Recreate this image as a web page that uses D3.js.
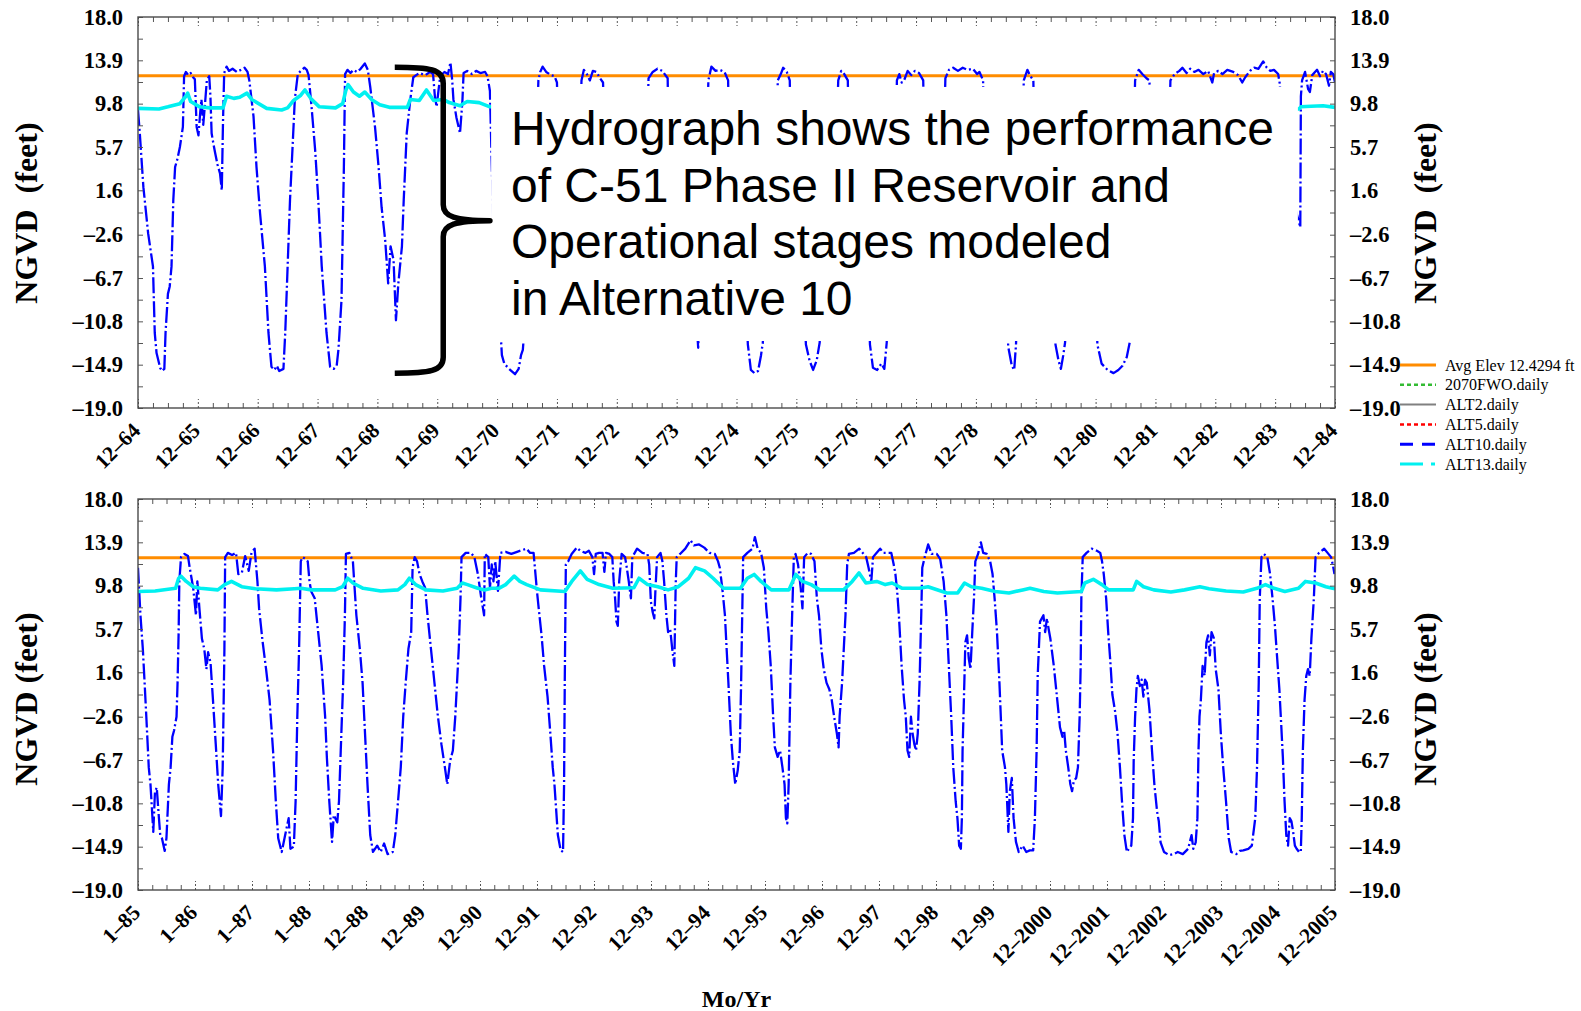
<!DOCTYPE html>
<html><head><meta charset="utf-8">
<script src="https://cdn.jsdelivr.net/npm/d3@7"></script>
<style>
html,body{margin:0;padding:0;background:#fff;}
svg{display:block;}
</style></head><body>
<svg id="chart" width="1581" height="1011"></svg>
<script>
// ---------------- DATA ----------------
const yTickLabels = ["18.0","13.9","9.8","5.7","1.6","\u20132.6","\u20136.7","\u201310.8","\u201314.9","\u201319.0"];
const yTickValues = [18.0,13.9,9.8,5.7,1.6,-2.6,-6.7,-10.8,-14.9,-19.0];

const topXLabels = ["12\u201364","12\u201365","12\u201366","12\u201367","12\u201368","12\u201369","12\u201370","12\u201371","12\u201372","12\u201373","12\u201374","12\u201375","12\u201376","12\u201377","12\u201378","12\u201379","12\u201380","12\u201381","12\u201382","12\u201383","12\u201384"];
const bottomXLabels = ["1\u201385","1\u201386","1\u201387","1\u201388","12\u201388","12\u201389","12\u201390","12\u201391","12\u201392","12\u201393","12\u201394","12\u201395","12\u201396","12\u201397","12\u201398","12\u201399","12\u20132000","12\u20132001","12\u20132002","12\u20132003","12\u20132004","12\u20132005"];

const avgElev = 12.4294;

// [time (label units from panel start), stage ft]
const topALT10 = [
[0,9.2],[0.03,7.0],[0.09,1.9],[0.17,-2.5],[0.25,-5.6],[0.28,-11.9],[0.31,-13.8],[0.37,-15.2],[0.4,-15.5],[0.44,-15.3],[0.46,-11.9],[0.5,-8.2],[0.53,-7.5],[0.56,-5.6],[0.59,0.7],[0.62,3.8],[0.66,4.6],[0.70,5.7],[0.75,7.6],[0.77,12.4],[0.8,12.8],[0.84,12.5],[0.88,12.7],[0.92,12.3],[0.95,12.1],[0.98,7.6],[1.01,6.8],[1.04,9.0],[1.06,10.2],[1.09,7.8],[1.12,9.8],[1.15,12.0],[1.19,12.4],[1.21,10.5],[1.23,7.0],[1.26,6.0],[1.29,5.1],[1.33,4.0],[1.37,3.2],[1.40,1.6],[1.42,8.0],[1.44,12.7],[1.48,13.3],[1.52,12.9],[1.58,13.1],[1.65,12.8],[1.72,13.0],[1.78,13.2],[1.83,12.8],[1.86,12.0],[1.93,8.6],[1.98,3.8],[2.04,-0.6],[2.12,-5.6],[2.18,-11.9],[2.23,-15.1],[2.28,-15.4],[2.32,-15.0],[2.36,-15.5],[2.43,-15.3],[2.46,-11.9],[2.5,-5.6],[2.54,0.7],[2.58,5.4],[2.62,10.2],[2.67,12.6],[2.72,12.9],[2.78,13.2],[2.82,13.0],[2.85,12.5],[2.9,9.5],[2.96,5.4],[3.01,0.9],[3.07,-5.6],[3.15,-11.9],[3.21,-15.1],[3.27,-15.3],[3.32,-15.0],[3.35,-13.4],[3.40,-8.8],[3.42,-2.5],[3.44,3.8],[3.46,12.6],[3.5,13.0],[3.55,12.7],[3.6,13.0],[3.66,12.8],[3.72,13.1],[3.79,13.6],[3.84,13.0],[3.88,11.4],[3.96,7.6],[4.02,3.8],[4.07,0.0],[4.13,-3.1],[4.18,-7.2],[4.22,-3.7],[4.27,-5.0],[4.31,-10.7],[4.35,-7.2],[4.41,-3.7],[4.44,0.7],[4.49,7.0],[4.55,10.2],[4.6,12.3],[4.7,12.7],[4.8,12.5],[4.88,12.8],[4.93,12.6],[4.96,10.5],[4.99,9.5],[5.02,11.0],[5.05,12.4],[5.12,12.8],[5.18,12.6],[5.22,13.7],[5.25,12.0],[5.27,10.2],[5.32,8.5],[5.38,7.0],[5.42,10.0],[5.44,12.7],[5.5,12.9],[5.58,12.6],[5.65,12.9],[5.72,12.7],[5.8,12.8],[5.84,12.4],[5.88,11.0],[5.9,6.5],
[5.95,-5],[6.06,-12.0],[6.08,-14.0],[6.12,-14.8],[6.2,-15.3],[6.3,-15.8],[6.36,-15.3],[6.4,-14.0],[6.43,-13.5],[6.45,-12.0],[6.5,-5],[6.65,5],[6.69,12.0],[6.72,12.8],[6.76,13.3],[6.82,12.8],[6.9,12.5],[6.96,12.4],[7.0,11.8],[7.03,5],
[7.38,5],[7.41,12.0],[7.45,13.0],[7.5,12.6],[7.55,12.0],[7.6,12.9],[7.66,12.8],[7.72,12.2],[7.77,11.8],[7.8,5],
[8.5,5],[8.53,12.2],[8.6,12.8],[8.68,13.1],[8.76,12.9],[8.85,12.2],[8.87,5],
[9.3,-8],[9.36,-13.3],[9.4,-8],
[9.5,5],[9.53,12.0],[9.58,13.3],[9.65,12.9],[9.72,13.0],[9.8,12.8],[9.86,12.0],[9.88,5],
[10.15,-8],[10.19,-13.0],[10.24,-15.4],[10.3,-15.7],[10.36,-15.5],[10.41,-14.0],[10.44,-12.8],[10.47,-8],
[10.66,5],[10.69,12.0],[10.74,12.6],[10.78,13.2],[10.84,12.8],[10.89,12.0],[10.91,5],
[11.12,-8],[11.16,-13.0],[11.22,-14.5],[11.28,-15.4],[11.34,-14.5],[11.39,-12.8],[11.42,-8],
[11.66,5],[11.7,12.0],[11.75,12.9],[11.8,12.6],[11.86,12.0],[11.88,5],
[12.2,-8],[12.23,-13.0],[12.28,-15.2],[12.35,-15.4],[12.42,-14.8],[12.47,-15.3],[12.51,-12.8],[12.54,-8],
[12.66,5],[12.68,12.0],[12.72,12.6],[12.76,11.8],[12.8,12.0],[12.86,12.9],[12.92,12.5],[12.98,12.9],[13.05,12.7],[13.12,12.0],[13.14,5],
[13.46,5],[13.49,12.2],[13.55,13.0],[13.62,13.2],[13.7,12.9],[13.78,13.2],[13.86,13.0],[13.95,13.1],[14.02,12.6],[14.06,12.8],[14.12,12.0],[14.14,5],
[14.5,-8],[14.54,-13.2],[14.6,-15.0],[14.64,-15.4],[14.67,-13.0],[14.7,-8],
[14.77,5],[14.8,12.0],[14.86,13.0],[14.9,12.5],[14.96,12.0],[14.98,5],
[15.3,-8],[15.33,-13.0],[15.38,-14.5],[15.42,-15.3],[15.46,-14.0],[15.49,-12.8],[15.52,-8],
[16.0,-8],[16.03,-13.0],[16.1,-14.8],[16.2,-15.4],[16.3,-15.7],[16.38,-15.4],[16.45,-15.0],[16.52,-14.2],[16.57,-12.8],[16.6,-8],
[16.63,5],[16.66,12.0],[16.72,13.0],[16.78,12.6],[16.85,12.2],[16.9,12.0],[16.93,5],
[17.22,5],[17.25,12.0],[17.32,12.6],[17.4,12.9],[17.45,13.2],[17.52,12.7],[17.58,13.1],[17.65,12.8],[17.72,13.0],[17.8,12.6],[17.88,12.9],[17.95,11.8],[17.98,12.7],[18.05,12.9],[18.12,12.6],[18.2,13.0],[18.3,12.8],[18.38,12.5],[18.45,11.8],[18.5,12.3],[18.58,12.9],[18.65,13.2],[18.72,13.1],[18.8,13.8],[18.86,13.2],[18.92,12.9],[18.98,13.0],[19.05,12.6],[19.08,11.6],[19.1,5],
[19.42,-1.9],[19.43,10.5],[19.45,12.0],[19.5,12.8],[19.55,11.2],[19.58,10.9],[19.62,12.5],[19.7,13.0],[19.75,12.4],[19.8,12.9],[19.85,12.6],[19.9,11.5],[19.93,12.8],[19.97,12.6],[20,11.8]
];

const topALT13 = [
[0,9.35],[0.35,9.3],[0.5,9.5],[0.7,9.8],[0.8,10.5],[0.83,10.8],[0.88,10.0],[1.03,9.5],[1.2,9.4],[1.42,9.4],[1.48,10.5],[1.6,10.3],[1.7,10.4],[1.82,10.8],[1.9,10.2],[2.15,9.35],[2.4,9.2],[2.5,9.4],[2.6,10.1],[2.72,10.6],[2.79,11.1],[2.9,10.2],[3.03,9.5],[3.3,9.4],[3.42,9.8],[3.47,11.0],[3.51,11.6],[3.6,10.9],[3.7,10.5],[3.79,10.9],[3.9,10.2],[4.04,9.7],[4.2,9.45],[4.5,9.45],[4.55,10.2],[4.7,10.1],[4.82,11.1],[4.94,10.1],[5.1,10.2],[5.2,9.9],[5.38,9.6],[5.5,10.0],[5.7,9.9],[5.88,9.5],
[6.5,9.4],[12,9.4],[19.4,9.3],
[19.43,9.5],[19.6,9.55],[19.8,9.6],[20,9.45]
];

const bottomALT10 = [
[0,11.5],[0.043,7.0],[0.085,3.8],[0.116,0.6],[0.146,-2.6],[0.189,-7.4],[0.219,-9.0],[0.268,-13.5],[0.298,-9.7],[0.329,-9.3],[0.359,-11.6],[0.39,-13.8],[0.42,-14.1],[0.469,-15.3],[0.499,-14.1],[0.542,-9.0],[0.572,-7.4],[0.603,-4.5],[0.633,-3.9],[0.676,-2.6],[0.694,0.6],[0.713,5.4],[0.725,10.2],[0.755,12.5],[0.816,12.8],[0.877,12.6],[0.907,11.5],[0.968,9.6],[1.017,7.0],[1.041,10.2],[1.078,7.6],[1.121,4.8],[1.163,3.8],[1.2,1.9],[1.23,3.5],[1.273,2.5],[1.315,-1.0],[1.364,-5.2],[1.407,-9.0],[1.456,-12.0],[1.486,-7.4],[1.516,3.8],[1.529,12.5],[1.577,12.9],[1.65,12.7],[1.72,12.9],[1.76,10.9],[1.821,11.0],[1.88,12.6],[1.943,11.2],[1.991,12.9],[2.046,13.3],[2.095,10.2],[2.125,7.6],[2.186,4.5],[2.247,1.9],[2.308,-1.0],[2.369,-5.8],[2.418,-10.6],[2.46,-14.1],[2.521,-15.4],[2.582,-13.8],[2.643,-12.2],[2.674,-15.1],[2.734,-14.9],[2.765,-10.6],[2.795,-2.6],[2.826,3.8],[2.856,12.1],[2.887,12.5],[2.948,12.3],[2.978,12.1],[3.009,10.2],[3.039,9.25],[3.1,8.6],[3.161,5.4],[3.222,2.2],[3.283,-2.6],[3.313,-6.4],[3.356,-10.6],[3.404,-14.45],[3.435,-11.9],[3.496,-12.6],[3.526,-10.6],[3.557,-5.8],[3.599,0.6],[3.63,7.0],[3.648,12.8],[3.709,12.9],[3.77,12.1],[3.831,7.0],[3.892,3.8],[3.94,0.6],[3.983,-4.2],[4.026,-9.0],[4.074,-13.8],[4.123,-15.4],[4.196,-14.8],[4.257,-15.4],[4.318,-14.6],[4.379,-15.6],[4.47,-15.4],[4.513,-13.8],[4.562,-10.6],[4.61,-7.4],[4.653,-2.6],[4.696,0.6],[4.744,3.8],[4.793,5.4],[4.817,11.5],[4.854,12.5],[4.896,12.1],[4.939,10.9],[4.988,10.2],[5.037,9.6],[5.079,7.0],[5.14,3.8],[5.201,0.6],[5.262,-2.6],[5.323,-5.2],[5.384,-7.4],[5.426,-9.0],[5.475,-6.8],[5.524,-5.8],[5.566,-2.6],[5.597,0.6],[5.627,3.8],[5.658,8.6],[5.676,12.5],[5.749,12.9],[5.84,12.9],[5.901,12.5],[5.962,10.9],[6.023,8.6],[6.072,7.0],[6.084,12.8],[6.145,12.5],[6.175,9.6],[6.206,11.8],[6.236,10.2],[6.267,12.1],[6.315,9.3],[6.358,12.9],[6.45,13.0],[6.55,12.8],[6.65,13.0],[6.815,13.3],[6.88,12.9],[6.94,12.9],[7.0,9.25],[7.03,7.65],[7.08,5.1],[7.125,2.2],[7.185,-0.7],[7.234,-4.2],[7.276,-7.4],[7.306,-9.0],[7.366,-13.8],[7.415,-15.25],[7.457,-15.4],[7.475,-9.0],[7.487,0.6],[7.506,11.8],[7.548,12.1],[7.608,12.8],[7.699,13.4],[7.76,13.1],[7.85,12.9],[7.91,13.1],[7.971,12.5],[8.001,10.9],[8.031,12.8],[8.09,12.9],[8.15,12.9],[8.182,11.1],[8.21,12.9],[8.27,12.8],[8.321,12.5],[8.345,10.2],[8.37,8.6],[8.394,6.4],[8.418,6.0],[8.442,10.2],[8.485,12.8],[8.545,12.5],[8.575,11.5],[8.61,10.2],[8.648,8.6],[8.672,12.5],[8.756,13.3],[8.85,12.9],[8.938,12.8],[8.968,11.8],[8.998,8.3],[9.029,7.3],[9.058,6.7],[9.077,9.3],[9.107,12.5],[9.167,12.9],[9.2,12.1],[9.23,10.2],[9.27,7.0],[9.3,5.4],[9.336,5.7],[9.373,3.8],[9.409,2.2],[9.433,9.9],[9.451,12.5],[9.51,12.8],[9.602,13.3],[9.693,14.1],[9.753,13.6],[9.844,13.7],[9.935,13.4],[10.025,12.9],[10.12,12.8],[10.176,12.1],[10.207,11.5],[10.25,9.6],[10.297,7.0],[10.327,3.8],[10.358,0.6],[10.4,-4.2],[10.436,-6.8],[10.478,-9.0],[10.521,-7.7],[10.557,-5.8],[10.581,0.6],[10.6,7.0],[10.617,12.5],[10.69,12.9],[10.781,13.3],[10.823,14.4],[10.87,13.3],[10.931,12.9],[10.98,11.5],[11.022,7.65],[11.06,5.4],[11.101,2.2],[11.143,-2.6],[11.173,-5.5],[11.222,-6.4],[11.264,-5.8],[11.306,-7.4],[11.343,-9.0],[11.367,-12.2],[11.391,-12.7],[11.415,-9.0],[11.445,0.6],[11.476,7.0],[11.506,12.5],[11.536,12.8],[11.58,11.8],[11.626,9.6],[11.657,7.65],[11.687,12.5],[11.75,12.9],[11.808,12.8],[11.868,12.1],[11.91,8.6],[11.947,7.0],[11.989,3.8],[12.031,1.9],[12.08,0.6],[12.128,0.0],[12.17,-1.0],[12.213,-2.6],[12.261,-4.2],[12.291,-5.5],[12.309,-2.6],[12.352,0.6],[12.382,3.8],[12.412,7.0],[12.442,11.8],[12.472,12.8],[12.56,12.9],[12.654,13.3],[12.715,12.9],[12.775,12.5],[12.817,11.5],[12.865,10.2],[12.895,12.5],[12.956,12.9],[13.02,13.3],[13.08,12.9],[13.216,12.9],[13.258,11.8],[13.288,10.9],[13.318,9.3],[13.349,7.0],[13.397,2.2],[13.439,-1.0],[13.47,-2.6],[13.5,-5.8],[13.53,-6.4],[13.56,-2.6],[13.59,-4.2],[13.62,-5.2],[13.65,-5.8],[13.68,-4.2],[13.711,0.6],[13.741,7.0],[13.759,11.5],[13.802,12.5],[13.862,13.7],[13.922,12.8],[14.013,12.8],[14.074,12.3],[14.134,10.2],[14.182,7.0],[14.225,2.2],[14.267,-2.6],[14.303,-7.4],[14.345,-10.6],[14.376,-12.2],[14.406,-14.8],[14.436,-15.1],[14.454,-12.2],[14.466,-5.8],[14.497,0.6],[14.515,4.45],[14.545,5.1],[14.575,2.9],[14.605,1.9],[14.636,5.4],[14.666,8.6],[14.69,12.1],[14.738,12.8],[14.787,13.9],[14.829,12.9],[14.89,12.8],[14.95,12.1],[14.992,10.9],[15.028,8.6],[15.07,5.4],[15.113,0.6],[15.161,-5.8],[15.21,-7.4],[15.234,-9.0],[15.27,-13.5],[15.294,-9.7],[15.33,-8.4],[15.361,-12.2],[15.403,-14.45],[15.451,-15.4],[15.52,-14.8],[15.584,-15.4],[15.645,-15.25],[15.705,-15.25],[15.735,-12.2],[15.765,-5.8],[15.784,1.25],[15.825,6.4],[15.885,7.0],[15.915,5.4],[15.946,6.7],[15.976,5.7],[16.006,4.8],[16.067,2.2],[16.127,-1.0],[16.175,-3.6],[16.218,-4.5],[16.248,-3.9],[16.278,-5.8],[16.32,-7.4],[16.357,-9.0],[16.387,-9.65],[16.417,-8.7],[16.459,-8.4],[16.49,-7.4],[16.52,-2.6],[16.538,2.2],[16.55,8.6],[16.574,12.5],[16.641,12.9],[16.731,13.3],[16.822,13.1],[16.882,12.9],[16.913,12.1],[16.943,10.9],[16.985,8.6],[17.021,5.4],[17.064,2.2],[17.094,-0.5],[17.142,-2.1],[17.185,-4.2],[17.227,-7.4],[17.263,-10.6],[17.305,-13.8],[17.348,-15.4],[17.384,-15.1],[17.426,-14.8],[17.456,-12.2],[17.468,-6.8],[17.493,-2.6],[17.517,0.0],[17.541,1.25],[17.577,0.3],[17.608,0.9],[17.638,-0.7],[17.668,0.9],[17.698,0.6],[17.746,-2.0],[17.789,-5.8],[17.831,-9.0],[17.879,-11.6],[17.909,-12.5],[17.94,-14.5],[18.0,-15.4],[18.091,-15.7],[18.17,-15.6],[18.242,-15.4],[18.33,-15.6],[18.423,-15.1],[18.484,-13.8],[18.514,-15.1],[18.556,-14.5],[18.586,-12.2],[18.605,-5.8],[18.623,-2.6],[18.647,-1.0],[18.677,2.2],[18.713,1.3],[18.744,4.45],[18.774,5.1],[18.804,3.2],[18.834,5.4],[18.876,4.8],[18.907,1.9],[18.955,0.0],[18.997,-4.2],[19.039,-7.4],[19.088,-10.6],[19.136,-14.1],[19.178,-15.4],[19.269,-15.6],[19.33,-15.3],[19.39,-15.25],[19.48,-15.1],[19.541,-14.8],[19.601,-12.2],[19.632,-7.4],[19.662,0.6],[19.68,8.6],[19.71,12.5],[19.752,12.8],[19.813,12.5],[19.861,10.9],[19.904,8.6],[19.946,6.0],[19.982,3.2],[20.024,0.0],[20.055,-3.2],[20.085,-6.4],[20.115,-10.6],[20.145,-13.8],[20.176,-14.8],[20.206,-12.2],[20.236,-12.5],[20.266,-13.5],[20.296,-14.8],[20.327,-15.1],[20.369,-15.4],[20.4,-15.4],[20.417,-12.2],[20.436,-5.8],[20.466,-1.0],[20.496,1.25],[20.526,1.9],[20.556,1.25],[20.586,4.8],[20.629,8.6],[20.659,12.5],[20.719,12.9],[20.81,13.3],[20.87,12.9],[20.931,12.5],[20.961,11.8],[20.991,10.9]
];

const bottomALT13 = [
[0,9.25],[0.3,9.3],[0.66,9.55],[0.713,10.5],[0.755,10.7],[0.846,10.2],[0.968,9.7],[1.09,9.55],[1.4,9.4],[1.52,9.9],[1.64,10.2],[1.82,9.7],[2.06,9.5],[2.43,9.4],[2.74,9.5],[2.86,9.55],[3.04,9.4],[3.46,9.4],[3.59,9.7],[3.68,10.5],[3.77,10.05],[3.95,9.55],[4.26,9.3],[4.56,9.4],[4.68,9.9],[4.76,10.5],[4.87,9.9],[5.05,9.4],[5.35,9.3],[5.6,9.55],[5.69,10.05],[5.78,9.9],[5.96,9.55],[6.08,9.4],[6.2,9.55],[6.33,9.55],[6.45,9.9],[6.6,10.7],[6.70,10.2],[6.82,9.9],[7.06,9.4],[7.49,9.25],[7.61,10.2],[7.76,11.2],[7.88,10.4],[8.09,9.9],[8.33,9.55],[8.70,9.6],[8.79,10.5],[8.94,9.9],[9.12,9.7],[9.30,9.4],[9.48,9.7],[9.66,10.5],[9.78,11.5],[9.94,11.2],[10.09,10.5],[10.27,9.55],[10.57,9.55],[10.69,10.5],[10.81,10.86],[10.93,10.2],[11.11,9.4],[11.42,9.4],[11.54,10.86],[11.66,10.2],[11.81,9.9],[11.96,9.4],[12.38,9.4],[12.53,10.2],[12.65,11.0],[12.77,10.05],[12.96,10.2],[13.11,9.9],[13.23,10.05],[13.41,9.55],[13.71,9.55],[13.86,9.7],[14.19,9.1],[14.38,9.1],[14.5,10.05],[14.62,9.7],[14.80,9.55],[15.04,9.25],[15.28,9.1],[15.52,9.4],[15.65,9.55],[15.89,9.25],[16.13,9.1],[16.55,9.25],[16.61,10.05],[16.76,10.4],[16.91,9.9],[17.03,9.4],[17.46,9.4],[17.52,10.2],[17.64,9.7],[17.82,9.4],[18.12,9.2],[18.36,9.4],[18.63,9.7],[18.79,9.5],[19.09,9.3],[19.39,9.2],[19.63,9.55],[19.78,9.9],[19.93,9.55],[20.12,9.25],[20.36,9.55],[20.48,10.2],[20.66,10.05],[20.84,9.7],[21,9.5]
];

const legendLabels = ["Avg Elev 12.4294 ft","2070FWO.daily","ALT2.daily","ALT5.daily","ALT10.daily","ALT13.daily"];
const legendColors = ["#ff8c00","#33bb33","#808080","#ff0000","#0000ff","#00f0f0"];
const legendDashes = ["none","4,3","none","4,3","13,9","23,8,4,8"];
const legendWidths = [3,2.5,2,2.5,3,3];

const annotationLines = ["Hydrograph shows the performance","of C-51 Phase II Reservoir and","Operational stages modeled","in Alternative 10"];

// ---------------- LAYOUT ----------------
const svg = d3.select("#chart");
const X0 = 138, X1 = 1335;
const panels = [
  {y0:17, y1:408, labels: topXLabels, alt10: topALT10, alt13: topALT13, title:"NGVD  (feet)", titleY:213, id:"top"},
  {y0:499, y1:890, labels: bottomXLabels, alt10: bottomALT10, alt13: bottomALT13, title:"NGVD (feet)", titleY:699, id:"bot"}
];
const serif = "'Liberation Serif','Times New Roman',serif";
const BLUE = "#0000ff", CYAN = "#00f0f0", ORANGE = "#ff8c00";

const defs = svg.append("defs");
const minorY = d3.range(9).map(i => (yTickValues[i] + yTickValues[i+1]) / 2);

panels.forEach(p => {
  const n = p.labels.length - 1;
  const x = d3.scaleLinear().domain([0, n]).range([X0, X1]);
  const y = d3.scaleLinear().domain([-19, 18]).range([p.y1, p.y0]);
  p.x = x; p.y = y;
  const g = svg.append("g");

  defs.append("clipPath").attr("id", "clip-" + p.id)
    .append("rect").attr("x", X0).attr("y", p.y0).attr("width", X1 - X0).attr("height", p.y1 - p.y0);

  const line = d3.line().x(d => x(d[0])).y(d => y(d[1]));
  const plot = g.append("g").attr("clip-path", `url(#clip-${p.id})`);

  plot.append("path").datum([[0, avgElev], [n, avgElev]])
    .attr("d", line).attr("fill", "none").attr("stroke", ORANGE).attr("stroke-width", 3);
  plot.append("path").datum(p.alt10)
    .attr("d", line).attr("fill", "none").attr("stroke", BLUE).attr("stroke-width", 2.3)
    .attr("stroke-dasharray", "16,3,2,3").attr("stroke-linejoin", "round");
  plot.append("path").datum(p.alt13)
    .attr("d", line).attr("fill", "none").attr("stroke", CYAN).attr("stroke-width", 3.6)
    .attr("stroke-linejoin", "round");

  // x ticks (inward) bottom & top
  const minorX = d3.range(0, n * 4 + 1).filter(i => i % 4 !== 0).map(i => i / 4);
  const majorX = d3.range(0, n + 1);
  const styleTicks = (sel, dashed) => {
    sel.select(".domain").remove();
    sel.selectAll(".tick line").attr("stroke", "#555").attr("stroke-width", 1)
      .attr("stroke-dasharray", dashed ? "2,2" : null);
  };
  g.append("g").attr("transform", `translate(0,${p.y1})`)
    .call(d3.axisBottom(x).tickValues(minorX).tickSize(-5).tickFormat(""))
    .call(s => styleTicks(s, false));
  g.append("g").attr("transform", `translate(0,${p.y1})`)
    .call(d3.axisBottom(x).tickValues(majorX).tickSize(-9).tickFormat(""))
    .call(s => styleTicks(s, true));
  g.append("g").attr("transform", `translate(0,${p.y0})`)
    .call(d3.axisTop(x).tickValues(minorX).tickSize(-5).tickFormat(""))
    .call(s => styleTicks(s, false));
  g.append("g").attr("transform", `translate(0,${p.y0})`)
    .call(d3.axisTop(x).tickValues(majorX).tickSize(-9).tickFormat(""))
    .call(s => styleTicks(s, true));

  // y axes
  const yAll = yTickValues.concat(minorY);
  const fmt = v => { const i = yTickValues.indexOf(v); return i >= 0 ? yTickLabels[i] : ""; };
  const styleY = sel => {
    sel.select(".domain").remove();
    sel.selectAll(".tick line").attr("stroke", "#555").attr("stroke-width", 1);
    sel.selectAll(".tick text").attr("font-family", serif).attr("font-weight", "bold")
      .attr("font-size", 22.5).attr("fill", "#000");
  };
  g.append("g").attr("transform", `translate(${X0},0)`)
    .call(d3.axisLeft(y).tickValues(yAll).tickSize(-5).tickPadding(15).tickFormat(fmt)).call(styleY);
  g.append("g").attr("transform", `translate(${X1},0)`)
    .call(d3.axisRight(y).tickValues(yAll).tickSize(-5).tickPadding(15).tickFormat(fmt)).call(styleY);

  // frame
  g.append("rect").attr("x", X0).attr("y", p.y0).attr("width", X1 - X0).attr("height", p.y1 - p.y0)
    .attr("fill", "none").attr("stroke", "#4a4a4a").attr("stroke-width", 1.4);

  // x tick labels rotated
  g.append("g").selectAll("text").data(p.labels).join("text")
    .attr("transform", (d, i) => `translate(${x(i) + 3.5},${p.y1 + 24}) rotate(-45)`)
    .attr("text-anchor", "end")
    .attr("font-family", serif).attr("font-weight", "bold").attr("font-size", 21.5)
    .text(d => d);

  // y titles
  [[37, p.titleY], [1436, p.titleY]].forEach(([tx, ty]) => {
    g.append("text").attr("transform", `translate(${tx},${ty}) rotate(-90)`)
      .attr("text-anchor", "middle").style("white-space", "pre")
      .attr("font-family", serif).attr("font-weight", "bold").attr("font-size", 32)
      .text(p.title);
  });
});

// x axis title
svg.append("text").attr("x", (X0 + X1) / 2).attr("y", 1007).attr("text-anchor", "middle")
  .attr("font-family", serif).attr("font-weight", "bold").attr("font-size", 24).text("Mo/Yr");

// legend
const lg = svg.append("g");
legendLabels.forEach((lab, i) => {
  const cy = 365 + i * 19.8;
  lg.append("line").attr("x1", 1400).attr("x2", 1436).attr("y1", cy).attr("y2", cy)
    .attr("stroke", legendColors[i]).attr("stroke-width", legendWidths[i])
    .attr("stroke-dasharray", legendDashes[i] === "none" ? null : legendDashes[i]);
  lg.append("text").attr("x", 1445).attr("y", cy + 5.5)
    .attr("font-family", serif).attr("font-size", 16).attr("fill", "#000").text(lab);
});

// annotation: white box, brace, text (top panel)
const tp = panels[0];
const bx0 = tp.x(5.9), bx1 = tp.x(19.38), by0 = tp.y(11.38), by1 = tp.y(-12.66);
svg.append("rect").attr("x", bx0).attr("y", by0).attr("width", bx1 - bx0).attr("height", by1 - by0).attr("fill", "#fff");

const bl = tp.x(4.29), bm = tp.x(5.1), bt = tp.x(5.88);
const byTop = tp.y(13.25), byBot = tp.y(-15.7), byMid = (byTop + byBot) / 2 + 0.5;
const bp = d3.path();
bp.moveTo(bl, byTop);
bp.bezierCurveTo(bl + 35, byTop, bm, byTop + 2, bm, byTop + 16);
bp.lineTo(bm, byMid - 16);
bp.bezierCurveTo(bm, byMid - 4, bm + 12, byMid, bt, byMid);
bp.bezierCurveTo(bm + 12, byMid, bm, byMid + 4, bm, byMid + 16);
bp.lineTo(bm, byBot - 16);
bp.bezierCurveTo(bm, byBot - 2, bl + 35, byBot, bl, byBot);
svg.append("path").attr("d", bp.toString()).attr("fill", "none").attr("stroke", "#000")
  .attr("stroke-width", 5.5).attr("stroke-linejoin", "round");

svg.append("g").selectAll("text").data(annotationLines).join("text")
  .attr("x", 511).attr("y", (d, i) => 145 + i * 56.7)
  .attr("font-family", "'Liberation Sans',Arial,sans-serif").attr("font-size", 48).attr("fill", "#000")
  .text(d => d);
</script>
</body></html>
